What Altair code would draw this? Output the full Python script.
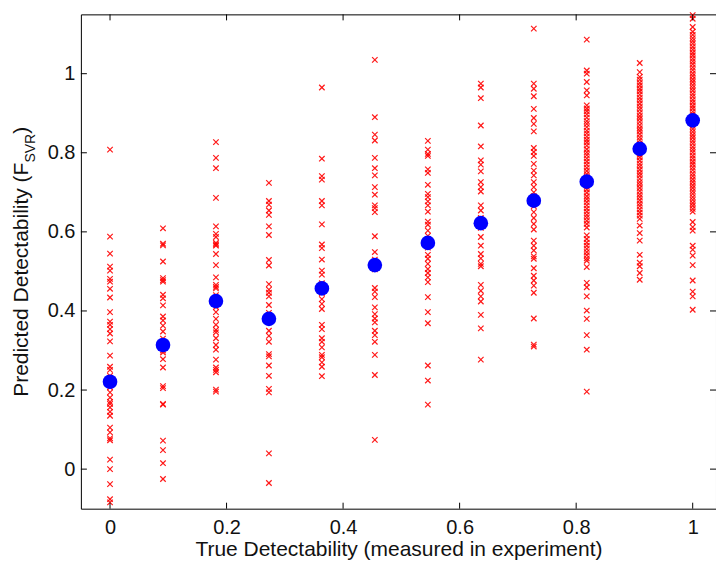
import altair as alt
import pandas as pd

# x positions of the groups (true detectability)
x_groups = [0.0, 0.0909, 0.1818, 0.2727, 0.3636, 0.4545, 0.5455, 0.6364, 0.7273, 0.8182, 0.9091, 1.0]

# group means (blue dots)
means = [0.221, 0.314, 0.425, 0.380, 0.457, 0.516, 0.572, 0.622, 0.679, 0.727, 0.810, 0.882]

# individual predictions (red crosses), one list per group
g0 = [0.808, 0.588, 0.545, 0.512, 0.502, 0.481, 0.474, 0.456, 0.434, 0.397, 0.373, 0.365, 0.354,
      0.343, 0.323, 0.287, 0.259, 0.251, 0.236, 0.228, 0.215, 0.207, 0.194, 0.181, 0.170, 0.165,
      0.156, 0.145, 0.135, 0.105, 0.093, 0.078, 0.073, 0.024, 0.000, -0.038, -0.076, -0.084]
g1 = [0.609, 0.570, 0.566, 0.525, 0.483, 0.478, 0.474, 0.441, 0.432, 0.414, 0.386, 0.376, 0.363,
      0.348, 0.330, 0.300, 0.295, 0.278, 0.257, 0.210, 0.205, 0.165, 0.163, 0.072, 0.048, 0.015, -0.025]
g2 = [0.827, 0.787, 0.761, 0.686, 0.614, 0.595, 0.587, 0.572, 0.568, 0.565, 0.544, 0.516, 0.485,
      0.466, 0.461, 0.457, 0.440, 0.410, 0.397, 0.380, 0.365, 0.352, 0.346, 0.331, 0.314, 0.302,
      0.277, 0.257, 0.251, 0.245, 0.201, 0.196]
g3 = [0.724, 0.678, 0.669, 0.654, 0.643, 0.614, 0.592, 0.529, 0.515, 0.468, 0.454, 0.446, 0.437,
      0.415, 0.395, 0.372, 0.350, 0.337, 0.322, 0.291, 0.285, 0.262, 0.236, 0.203, 0.194, 0.040, -0.035]
g4 = [0.965, 0.785, 0.741, 0.732, 0.678, 0.667, 0.619, 0.568, 0.559, 0.530, 0.502, 0.492, 0.470,
      0.445, 0.430, 0.418, 0.405, 0.365, 0.354, 0.331, 0.322, 0.308, 0.289, 0.283, 0.270, 0.259, 0.235]
g5 = [1.035, 0.890, 0.846, 0.831, 0.787, 0.761, 0.743, 0.713, 0.694, 0.667, 0.660, 0.650, 0.589,
      0.549, 0.530, 0.505, 0.458, 0.449, 0.435, 0.409, 0.392, 0.381, 0.371, 0.350, 0.339, 0.322,
      0.289, 0.238, 0.074]
g6 = [0.830, 0.808, 0.797, 0.792, 0.758, 0.749, 0.719, 0.696, 0.688, 0.677, 0.667, 0.651, 0.626,
      0.618, 0.603, 0.590, 0.560, 0.542, 0.532, 0.519, 0.506, 0.496, 0.485, 0.473, 0.435, 0.397,
      0.369, 0.262, 0.224, 0.163]
g7 = [0.975, 0.965, 0.938, 0.869, 0.816, 0.781, 0.770, 0.753, 0.726, 0.713, 0.702, 0.667, 0.654,
      0.635, 0.610, 0.587, 0.565, 0.544, 0.533, 0.519, 0.513, 0.466, 0.451, 0.437, 0.424, 0.390,
      0.356, 0.277]
g8 = [1.114, 0.975, 0.962, 0.943, 0.911, 0.888, 0.873, 0.854, 0.812, 0.802, 0.792, 0.772, 0.755,
      0.743, 0.726, 0.713, 0.700, 0.690, 0.665, 0.650, 0.635, 0.620, 0.606, 0.578, 0.565, 0.553,
      0.538, 0.532, 0.508, 0.489, 0.477, 0.464, 0.446, 0.381, 0.315, 0.310]
g9 = [1.086, 1.008, 1.000, 0.979, 0.958, 0.945, 0.920, 0.912, 0.905, 0.897, 0.889, 0.880, 0.873,
      0.865, 0.856, 0.849, 0.841, 0.833, 0.826, 0.818, 0.809, 0.801, 0.794, 0.786, 0.778, 0.770,
      0.762, 0.754, 0.746, 0.739, 0.731, 0.722, 0.714, 0.707, 0.699, 0.690, 0.683, 0.675, 0.667,
      0.659, 0.651, 0.643, 0.636, 0.628, 0.620, 0.611, 0.591, 0.582, 0.573, 0.565, 0.557, 0.549,
      0.541, 0.533, 0.527, 0.511, 0.471, 0.460, 0.437, 0.401, 0.380, 0.339, 0.302, 0.196]
g10 = [1.027, 1.004, 0.992, 0.985, 0.977, 0.970, 0.962, 0.955, 0.947, 0.939, 0.932, 0.924, 0.916,
       0.909, 0.901, 0.893, 0.886, 0.878, 0.870, 0.862, 0.855, 0.847, 0.839, 0.832, 0.824, 0.817,
       0.803, 0.795, 0.788, 0.780, 0.772, 0.765, 0.757, 0.749, 0.742, 0.734, 0.726, 0.719, 0.711,
       0.703, 0.695, 0.688, 0.680, 0.672, 0.665, 0.657, 0.649, 0.641, 0.633, 0.616, 0.597, 0.578,
       0.542, 0.522, 0.513, 0.496, 0.479]
g11 = [1.148, 1.139, 1.118, 1.106, 1.098, 1.090, 1.083, 1.076, 1.068, 1.061, 1.053, 1.046, 1.038,
       1.031, 1.024, 1.016, 1.009, 1.001, 0.994, 0.986, 0.979, 0.971, 0.964, 0.957, 0.949, 0.942,
       0.934, 0.927, 0.919, 0.912, 0.904, 0.897, 0.889, 0.875, 0.868, 0.860, 0.853, 0.845, 0.838,
       0.830, 0.823, 0.815, 0.808, 0.801, 0.793, 0.786, 0.778, 0.771, 0.763, 0.756, 0.748, 0.741,
       0.733, 0.726, 0.718, 0.711, 0.703, 0.696, 0.688, 0.681, 0.673, 0.666, 0.658, 0.651, 0.625,
       0.612, 0.603, 0.565, 0.555, 0.540, 0.516, 0.477, 0.449, 0.437, 0.403]
groups = [g0, g1, g2, g3, g4, g5, g6, g7, g8, g9, g10, g11]

x_ticks = [0, 0.2, 0.4, 0.6, 0.8, 1.0]
y_ticks = [0, 0.2, 0.4, 0.6, 0.8, 1.0]

rows = []
for xv, vals in zip(x_groups, groups):
    for v in vals:
        rows.append({"x": xv, "y": v})
pts = pd.DataFrame(rows)
mdf = pd.DataFrame({"x": x_groups, "y": means})
xt = pd.DataFrame({"v": x_ticks})
yt = pd.DataFrame({"v": y_ticks})
one = pd.DataFrame({"a": [0]})

W, H = 636, 495
FONT = "Liberation Sans"
xdom = [-0.05, 1.04]
ydom = [-0.1, 1.15]

xscale = alt.Scale(domain=xdom, nice=False, zero=False)
yscale = alt.Scale(domain=ydom, nice=False, zero=False)

xaxis = alt.Axis(values=x_ticks, format=".1~f", grid=False, ticks=False, domain=False,
                 labelFontSize=20, labelFont=FONT, labelColor="#111111", labelPadding=9,
                 labelFlush=False, labelOverlap=False,
                 title="True Detectability (measured in experiment)",
                 titleFont=FONT, titleFontSize=21, titleFontWeight="normal",
                 titleColor="#111111", titlePadding=1)
yaxis = alt.Axis(values=y_ticks, format=".1~f", grid=False, ticks=False, domain=False,
                 labelFontSize=20, labelFont=FONT, labelColor="#111111", labelPadding=6,
                 labelFlush=False, labelOverlap=False, title=None)

cross = "M-1,-1L1,1M-1,1L1,-1"

red = alt.Chart(pts).mark_point(shape=cross, filled=False, color="#ff0000", strokeWidth=1.2,
                                size=30, opacity=0.9).encode(
    x=alt.X("x:Q", scale=xscale, axis=xaxis),
    y=alt.Y("y:Q", scale=yscale, axis=yaxis),
)

blue = alt.Chart(mdf).mark_circle(color="#0000ff", opacity=1, size=215).encode(
    x=alt.X("x:Q", scale=xscale),
    y=alt.Y("y:Q", scale=yscale),
)

TL = 6
tick_col = "#000000"
bot = alt.Chart(xt).mark_rule(color=tick_col, strokeWidth=1).encode(
    x=alt.X("v:Q", scale=xscale), y=alt.value(H), y2=alt.value(H - TL))
top = alt.Chart(xt).mark_rule(color=tick_col, strokeWidth=1).encode(
    x=alt.X("v:Q", scale=xscale), y=alt.value(0), y2=alt.value(TL))
lft = alt.Chart(yt).mark_rule(color=tick_col, strokeWidth=1).encode(
    y=alt.Y("v:Q", scale=yscale), x=alt.value(0), x2=alt.value(TL))
rgt = alt.Chart(yt).mark_rule(color=tick_col, strokeWidth=1).encode(
    y=alt.Y("v:Q", scale=yscale), x=alt.value(W), x2=alt.value(W - TL))

# y-axis title with subscript
t_main = alt.Chart(one).mark_text(text="Predicted Detectability (F", angle=270, align="left",
                                  baseline="alphabetic", font=FONT, fontSize=21,
                                  color="#111111").encode(x=alt.value(-53), y=alt.value(383))
t_sub = alt.Chart(one).mark_text(text="SVR", angle=270, align="left", baseline="alphabetic",
                                 font=FONT, fontSize=14, color="#111111").encode(
    x=alt.value(-46), y=alt.value(148.4))
t_par = alt.Chart(one).mark_text(text=")", angle=270, align="left", baseline="alphabetic",
                                 font=FONT, fontSize=21, color="#111111").encode(
    x=alt.value(-53), y=alt.value(119.6))

chart = alt.layer(red, blue, bot, top, lft, rgt, t_main, t_sub, t_par).properties(
    width=W, height=H,
    autosize=alt.AutoSizeParams(type="none"),
    padding={"left": 81, "top": 14, "right": 0, "bottom": 53},
    background="white",
).configure_view(stroke="#000000", strokeWidth=1)

chart.save("out.html", embed_options={"renderer": "svg", "actions": False})
